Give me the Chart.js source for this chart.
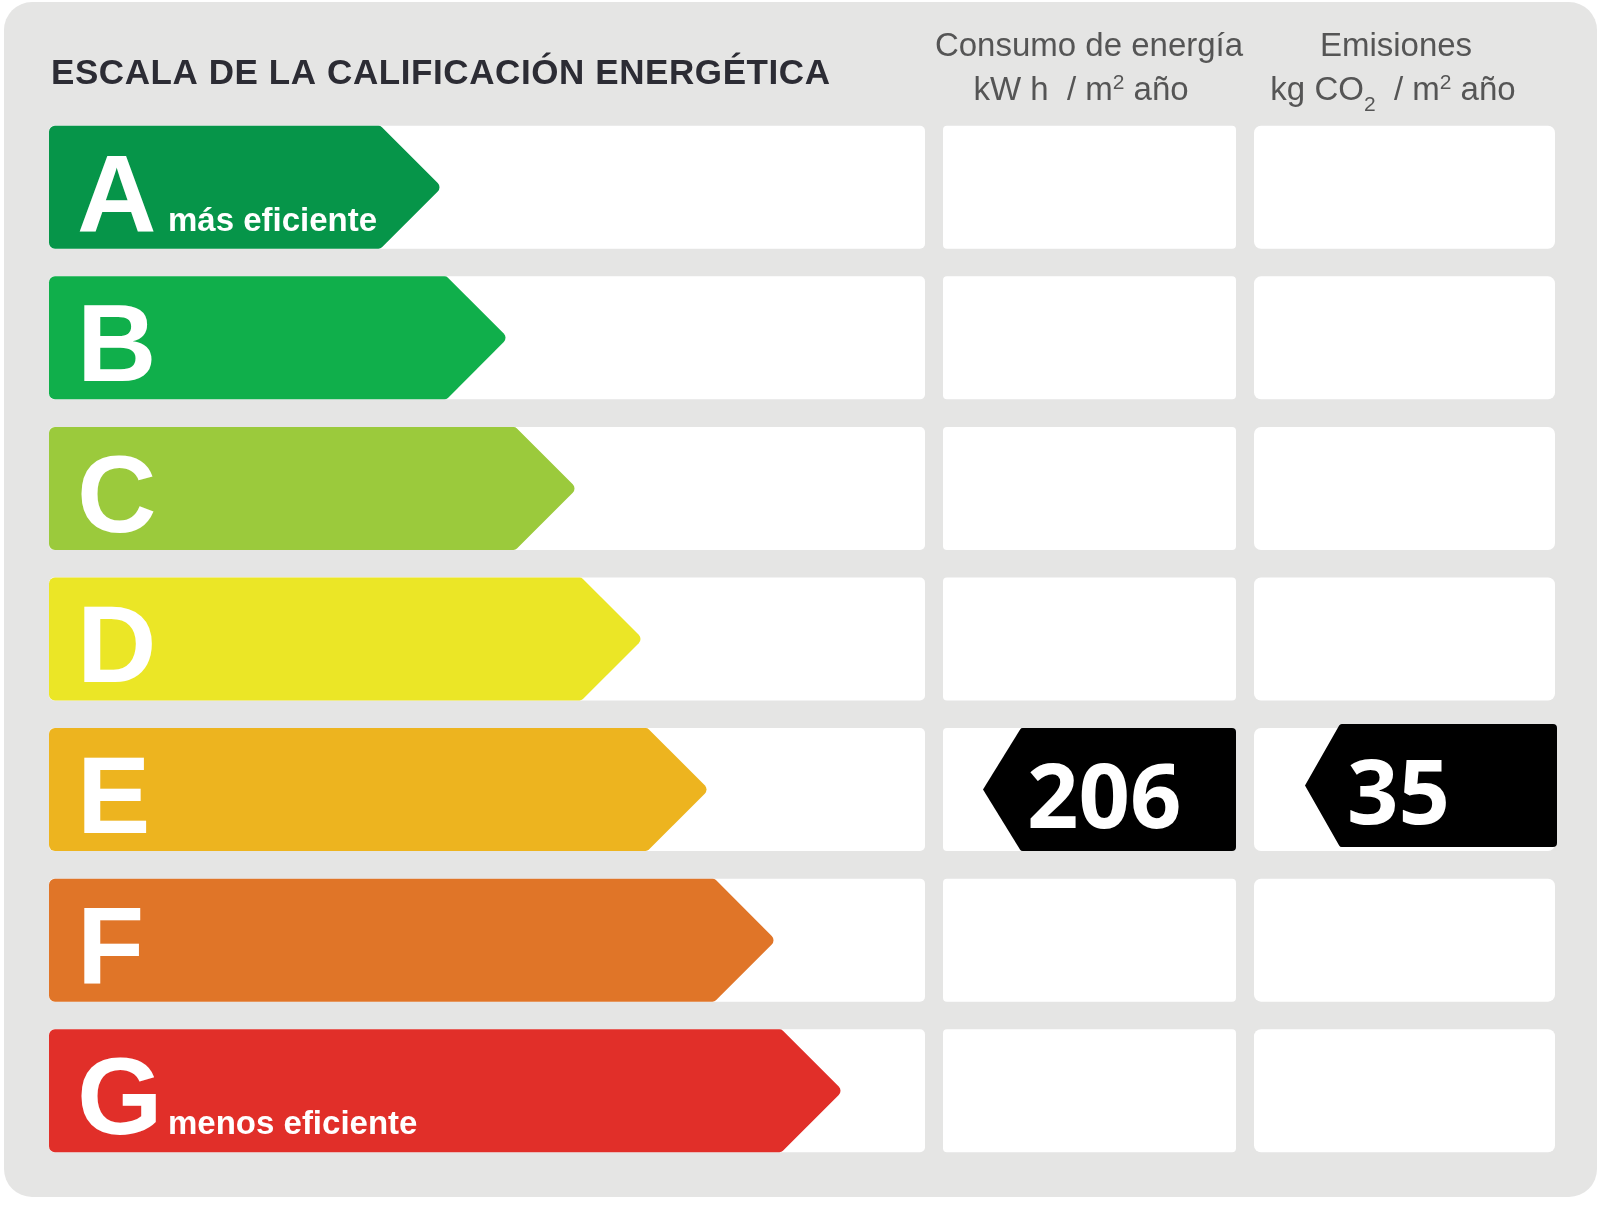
<!DOCTYPE html>
<html>
<head>
<meta charset="utf-8">
<title>Escala de la calificación energética</title>
<script src="https://cdn.jsdelivr.net/npm/chart.js@4.4.1/dist/chart.umd.min.js"></script>
<style>
  html, body { margin: 0; padding: 0; background: #fff; }
  #wrap { width: 1600px; height: 1211px; position: relative; }
</style>
</head>
<body>
<div id="wrap"><canvas id="label-chart"></canvas></div>
<script>
// ---- data ----
const letters = ['A', 'B', 'C', 'D', 'E', 'F', 'G'];
const arrowLength = [393, 459, 528, 594, 660, 727, 794];   // arrow length per class (px on the x scale)
const arrowColors = ['#069549', '#10af4b', '#9bca3c', '#ebe626', '#edb41f', '#e07528', '#e12f29'];
const subLabels = ['más eficiente', '', '', '', '', '', 'menos eficiente'];
const title = 'ESCALA DE LA CALIFICACIÓN ENERGÉTICA';
const rating = 'E';
const consumo = 206;     // kW h / m² año
const emisiones = 35;    // kg CO2 / m² año

// ---- layout (pixels) ----
const COL_MID = [943, 1236];
const COL_RIGHT = [1254, 1555];
const GRAY = '#e5e5e4';

function rrect(ctx, x, y, w, h, r) {
  ctx.beginPath();
  ctx.moveTo(x + r, y);
  ctx.arcTo(x + w, y, x + w, y + h, r);
  ctx.arcTo(x + w, y + h, x, y + h, r);
  ctx.arcTo(x, y + h, x, y, r);
  ctx.arcTo(x, y, x + w, y, r);
  ctx.closePath();
}

// draws runs of text (for super/subscripts) centred on cx
function drawRuns(ctx, runs, cx, baseline) {
  let w = 0;
  runs.forEach(r => { ctx.font = r.font; w += ctx.measureText(r.t).width; });
  let x = cx - w / 2;
  runs.forEach(r => {
    ctx.font = r.font;
    ctx.fillText(r.t, x, baseline + (r.dy || 0));
    x += ctx.measureText(r.t).width;
  });
}

// left-pointing value marker
function marker(ctx, tipX, shoulderX, rightX, top, bottom, r) {
  const cy = (top + bottom) / 2;
  ctx.beginPath();
  ctx.moveTo(tipX, cy);
  ctx.arcTo(shoulderX, top, rightX, top, 3);
  ctx.arcTo(rightX, top, rightX, bottom, r);
  ctx.arcTo(rightX, bottom, shoulderX, bottom, r);
  ctx.arcTo(shoulderX, bottom, tipX, cy, 3);
  ctx.closePath();
  ctx.fill();
}

const labelPlugin = {
  id: 'energyLabel',
  beforeDatasetsDraw(chart) {
    const ctx = chart.ctx;
    const area = chart.chartArea;
    ctx.save();
    ctx.fillStyle = '#fff';
    ctx.fillRect(0, 0, chart.width, chart.height);
    ctx.fillStyle = GRAY;
    rrect(ctx, 4, 2, 1593, 1195, 28);
    ctx.fill();

    // title
    ctx.fillStyle = '#2c2c34';
    ctx.font = 'bold 35px "Liberation Sans", Arial, sans-serif';
    ctx.textBaseline = 'alphabetic';
    ctx.textAlign = 'left';
    const natural = ctx.measureText(title).width;
    const spacing = Math.max(0, (779 - natural) / (title.length - 1));
    ctx.letterSpacing = spacing.toFixed(2) + 'px';
    ctx.fillText(title, 51, 84);
    ctx.letterSpacing = '0px';

    // column headers
    ctx.fillStyle = '#555';
    const f = '33px "Liberation Sans", Arial, sans-serif';
    const fs = '21px "Liberation Sans", Arial, sans-serif';
    drawRuns(ctx, [{ t: 'Consumo de energía', font: f }], 1089, 56);
    drawRuns(ctx, [{ t: 'kW h  / m', font: f }, { t: '2', font: fs, dy: -11 }, { t: ' año', font: f }], 1081, 100);
    drawRuns(ctx, [{ t: 'Emisiones', font: f }], 1396, 56);
    drawRuns(ctx, [{ t: 'kg CO', font: f }, { t: '2', font: fs, dy: 11 }, { t: '  / m', font: f },
                   { t: '2', font: fs, dy: -11 }, { t: ' año', font: f }], 1393, 100);

    // white rows
    ctx.fillStyle = '#fff';
    chart.getDatasetMeta(0).data.forEach(bar => {
      const p = bar.getProps(['y', 'height'], true);
      const top = p.y - p.height / 2;
      rrect(ctx, area.left, top, area.right - area.left, p.height, 5); ctx.fill();
      rrect(ctx, COL_MID[0], top, COL_MID[1] - COL_MID[0], p.height, 4); ctx.fill();
      rrect(ctx, COL_RIGHT[0], top, COL_RIGHT[1] - COL_RIGHT[0], p.height, 7); ctx.fill();
    });
    ctx.restore();
  },
  afterDatasetsDraw(chart) {
    const ctx = chart.ctx;
    const meta = chart.getDatasetMeta(0);
    ctx.save();
    meta.data.forEach((bar, i) => {
      const p = bar.getProps(['x', 'y', 'base', 'height'], true);
      const top = p.y - p.height / 2, bottom = p.y + p.height / 2;
      const depth = p.height / 2;
      ctx.fillStyle = arrowColors[i];
      ctx.beginPath();
      ctx.moveTo(p.base + 6, top);
      ctx.arcTo(p.x - depth, top, p.x, p.y, 5);
      ctx.arcTo(p.x, p.y, p.x - depth, bottom, 6);
      ctx.arcTo(p.x - depth, bottom, p.base, bottom, 5);
      ctx.arcTo(p.base, bottom, p.base, top, 6);
      ctx.arcTo(p.base, top, p.x, top, 6);
      ctx.closePath();
      ctx.fill();

      ctx.fillStyle = '#fff';
      ctx.textAlign = 'left';
      ctx.textBaseline = 'alphabetic';
      ctx.font = 'bold 110px "Liberation Sans", Arial, sans-serif';
      ctx.fillText(letters[i], 77, top + 105);
      if (subLabels[i]) {
        ctx.font = 'bold 33px "Liberation Sans", Arial, sans-serif';
        ctx.fillText(subLabels[i], 168, top + 105);
      }
    });

    // value markers on the rated row
    const ys = chart.scales.y;
    const idx = letters.indexOf(rating);
    const cy = ys.getPixelForValue(idx);
    const h = meta.data[idx].getProps(['height'], true).height;
    const top = cy - h / 2, bottom = cy + h / 2;
    ctx.fillStyle = '#000';
    marker(ctx, 983, 1021, COL_MID[1], top, bottom, 4);
    marker(ctx, 1305, 1340, 1557, top - 4, bottom - 4, 4);
    ctx.fillStyle = '#fff';
    ctx.font = 'bold 90px "Open Sans", "Liberation Sans", sans-serif';
    ctx.fillText(String(consumo), 1027, top + 100);
    ctx.fillText(String(emisiones), 1347, top + 96);
    ctx.restore();
  }
};

new Chart(document.getElementById('label-chart'), {
  type: 'bar',
  data: {
    labels: letters,
    datasets: [{
      data: arrowLength,
      backgroundColor: 'rgba(0,0,0,0)',
      borderWidth: 0,
      barPercentage: 0.817,
      categoryPercentage: 1
    }]
  },
  options: {
    indexAxis: 'y',
    responsive: true,
    maintainAspectRatio: false,
    animation: false,
    devicePixelRatio: 1,
    layout: { padding: { left: 49, right: 675, top: 112, bottom: 45 } },
    scales: {
      x: { display: false, min: 0, max: 876 },
      y: { display: false }
    },
    plugins: { legend: { display: false }, tooltip: { enabled: false } }
  },
  plugins: [labelPlugin]
});
</script>
</body>
</html>
